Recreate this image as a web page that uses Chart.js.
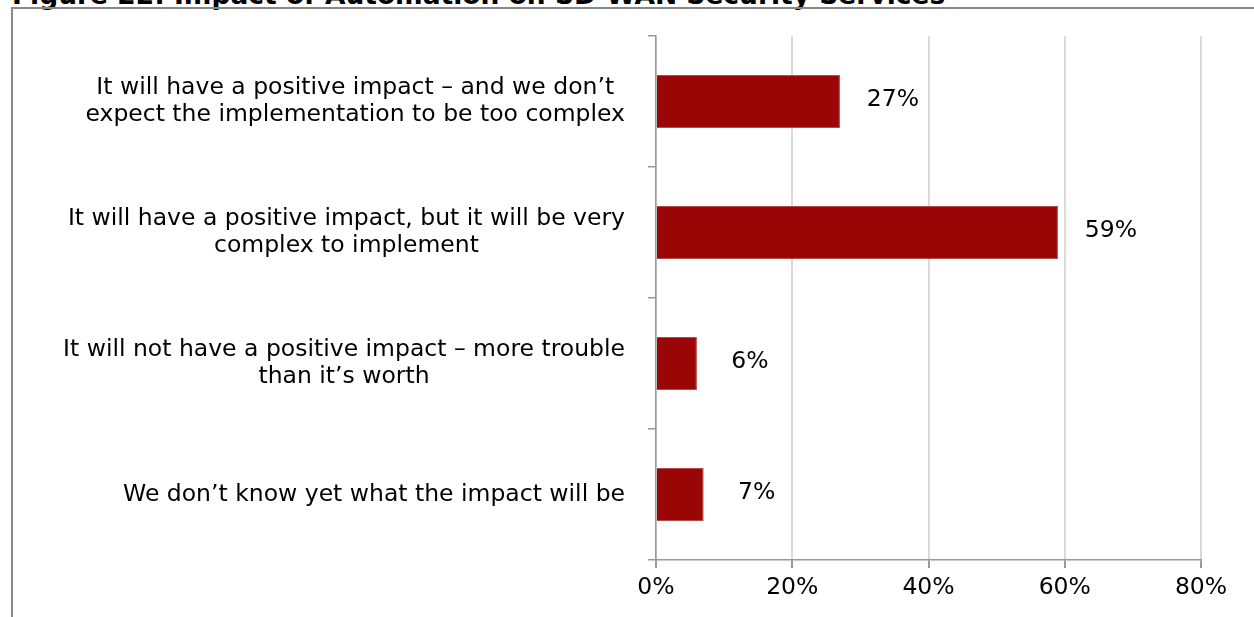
<!DOCTYPE html>
<html>
<head>
<meta charset="utf-8">
<title>Figure 22: Impact of Automation on SD-WAN Security Services</title>
<script src="https://cdn.jsdelivr.net/npm/chart.js@4.4.1/dist/chart.umd.min.js"></script>
<style>
  html, body { margin: 0; padding: 0; background: #fff; overflow: hidden; }
  #wrap { position: relative; width: 1254px; height: 617px; }
  #title {
    position: absolute; left: 12px; top: -19px;
    font: bold 26.5px "DejaVu Sans", sans-serif; line-height: 27px;
    color: #000; white-space: nowrap;
  }
  #frame {
    position: absolute; left: 11px; top: 7px; right: -4px; bottom: -4px;
    border-top: 2px solid #888; border-left: 2px solid #888;
  }
  #chart { position: absolute; left: 0; top: 0; }
</style>
</head>
<body>
<div id="wrap">
  <div id="title">Figure 22: Impact of Automation on SD-WAN Security Services</div>
  <div id="frame"></div>
  <canvas id="chart" width="1254" height="617"></canvas>
</div>
<script>
// 各选项（多行标签）、百分比数值、横轴刻度文字
const categories = [
  ['It will have a positive impact \u2013 and we don\u2019t', 'expect the implementation to be too complex'],
  ['It will have a positive impact, but it will be very', 'complex to implement'],
  ['It will not have a positive impact \u2013 more trouble', 'than it\u2019s worth'],
  ['We don\u2019t know yet what the impact will be']
];
const values = [27, 59, 6, 7];
const tickLabels = ['0%', '20%', '40%', '60%', '80%'];

const FONT = '"DejaVu Sans", sans-serif';
const SIZE = 23.5;

// 纵轴标签：整体右对齐，块内各行居中
const categoryLabels = {
  id: 'categoryLabels',
  afterDraw(chart) {
    const ctx = chart.ctx;
    const y = chart.scales.y;
    const right = y.right - y.options.grid.tickLength - 23;
    ctx.save();
    ctx.font = SIZE + 'px ' + FONT;
    ctx.fillStyle = '#000';
    ctx.textAlign = 'center';
    ctx.textBaseline = 'middle';
    categories.forEach((lines, i) => {
      const cy = y.getPixelForValue(i);
      const w = Math.max(...lines.map((l) => ctx.measureText(l).width));
      const cx = right - w / 2;
      lines.forEach((l, j) => {
        ctx.fillText(l, cx, cy + (j - (lines.length - 1) / 2) * 27);
      });
    });
    ctx.restore();
  }
};

// 条形末端的数值标签
const valueLabels = {
  id: 'valueLabels',
  afterDatasetsDraw(chart) {
    const ctx = chart.ctx;
    const meta = chart.getDatasetMeta(0);
    ctx.save();
    ctx.font = SIZE + 'px ' + FONT;
    ctx.fillStyle = '#000';
    ctx.textAlign = 'center';
    ctx.textBaseline = 'middle';
    meta.data.forEach((bar, i) => {
      ctx.fillText(values[i] + '%', bar.x + 53, bar.y - 2);
    });
    ctx.restore();
  }
};

new Chart(document.getElementById('chart'), {
  type: 'bar',
  data: {
    labels: categories,
    datasets: [{
      data: values,
      backgroundColor: '#9a0606',
      borderColor: '#b94a4a',
      borderWidth: 1,
      categoryPercentage: 1,
      barPercentage: 0.405
    }]
  },
  options: {
    indexAxis: 'y',
    responsive: false,
    animation: false,
    layout: { padding: { top: 36, right: 53, bottom: 0, left: 0 } },
    plugins: {
      legend: { display: false },
      tooltip: { enabled: false }
    },
    scales: {
      x: {
        min: 0,
        max: 80,
        afterFit: (s) => { s.height = 57; },
        ticks: {
          stepSize: 20,
          padding: 6,
          color: '#000',
          font: { family: FONT, size: SIZE },
          callback: (v, i) => tickLabels[i]
        },
        grid: { color: '#dadada', lineWidth: 2, tickColor: '#999', tickLength: 8 },
        border: { color: '#999', width: 1.5 }
      },
      y: {
        afterFit: (s) => { s.width = 656; },
        ticks: { display: false },
        grid: { drawOnChartArea: false, tickColor: '#999', tickLength: 8, lineWidth: 1.5 },
        border: { color: '#999', width: 1.5 }
      }
    }
  },
  plugins: [categoryLabels, valueLabels]
});
</script>
</body>
</html>
